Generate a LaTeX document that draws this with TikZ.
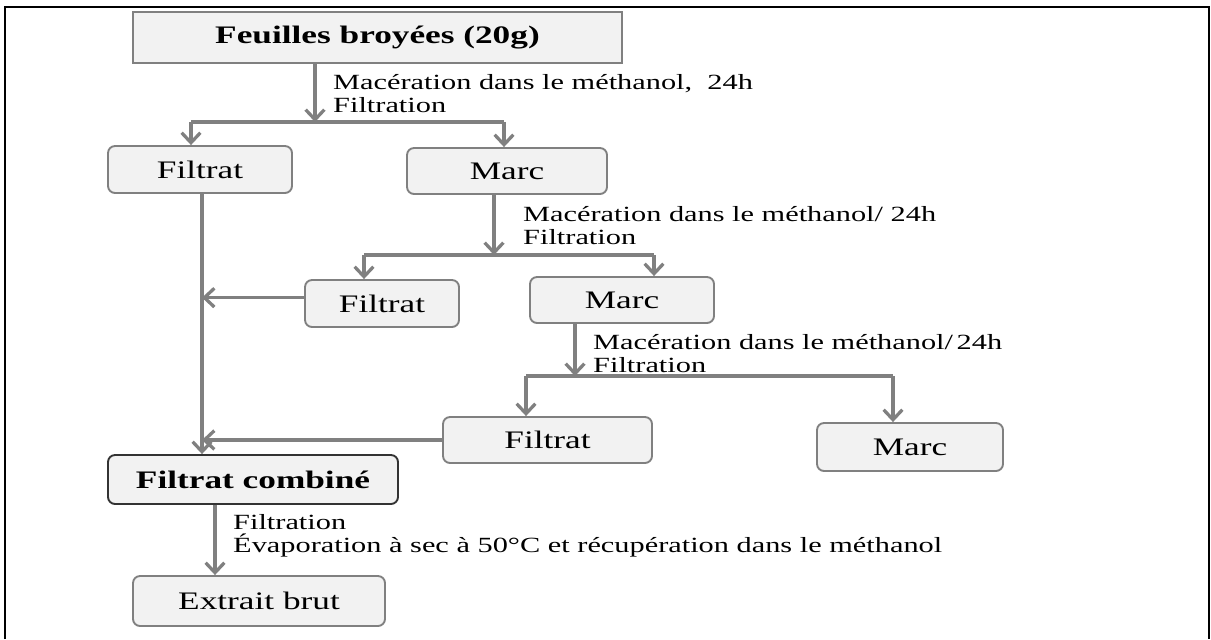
\documentclass[tikz,border=0pt]{standalone}
\usepackage{fontspec}
\setmainfont{Liberation Serif}[FakeStretch=1.4]
\usetikzlibrary{arrows.meta}

\definecolor{boxfill}{RGB}{242,242,242}
\definecolor{linegray}{RGB}{128,128,128}

\tikzset{
  stepbox/.style={draw=linegray, fill=boxfill, line width=1.6pt, rounded corners=6pt,
    inner sep=0pt, font=\fontsize{21.5}{24}\selectfont},
  flow/.style={draw=linegray, line width=2.8pt},
  note/.style={anchor=west, align=left, inner sep=0pt, font=\fontsize{18.5}{19.8}\selectfont},
  >={Straight Barb[length=8.5pt,width=16pt]},
}

\begin{document}
\begin{tikzpicture}[x=0.03cm, y=-0.03cm]
    \useasboundingbox (0,0) rectangle (1211,639);
    \draw[line width=1pt] (5,639) -- (5,7) -- (1209,7) -- (1209,639); % frame, open at the bottom

    % boxes
    \node[stepbox, sharp corners, line width=2.4pt, minimum width=14.67cm, minimum height=1.53cm,
          font=\fontsize{21.5}{24}\selectfont\bfseries] (top) at (377.5,37.5) {Feuilles broyées (20g)};
    \node[stepbox, minimum width=5.52cm, minimum height=1.41cm] (fil1) at (200,169.5) {Filtrat};
    \node[stepbox, minimum width=6cm, minimum height=1.38cm] (marc1) at (507,171) {Marc};
    \node[stepbox, minimum width=4.62cm, minimum height=1.41cm] (fil2) at (382,303.5) {Filtrat};
    \node[stepbox, minimum width=5.52cm, minimum height=1.38cm] (marc2) at (622,300) {Marc};
    \node[stepbox, minimum width=6.27cm, minimum height=1.38cm] (fil3) at (547.5,440) {Filtrat};
    \node[stepbox, minimum width=5.58cm, minimum height=1.44cm] (marc3) at (910,447) {Marc};
    \node[stepbox, draw=black!80, minimum width=8.7cm, minimum height=1.47cm,
          font=\fontsize{21.5}{24}\selectfont\bfseries] (comb) at (253,479.5) {Filtrat combiné};
    \node[stepbox, minimum width=7.56cm, minimum height=1.5cm] (brut) at (259,601) {Extrait brut};

    % branch points
    \coordinate (j1) at (315,122);
    \coordinate (j1l) at (191,122);
    \coordinate (j1r) at (504,122);
    \coordinate (j2) at (494,255);
    \coordinate (j2l) at (364,255);
    \coordinate (j2r) at (654,255);
    \coordinate (j3) at (575,376);
    \coordinate (j3l) at (526,376);
    \coordinate (j3r) at (893,376);
    \coordinate (c1) at (202,193);
    \coordinate (d4) at (215,504);

    % first maceration
    \draw[flow,->] (top.south -| j1) -- (j1);
    \draw[flow] (j1l) -- (j1r);
    \draw[flow,->] (j1l) -- (j1l |- fil1.north);
    \draw[flow,->] (j1r) -- (j1r |- marc1.north);
    \node[note] (m1) at (333,93.5) {Macération dans le méthanol,\ \ 24h\\Filtration};

    % second maceration
    \draw[flow,->] (marc1.south -| j2) -- (j2);
    \draw[flow] (j2l) -- (j2r);
    \draw[flow,->] (j2l) -- (j2l |- fil2.north);
    \draw[flow,->] (j2r) -- (j2r |- marc2.north);
    \node[note] (m2) at (523,225.5) {Macération dans le méthanol/ 24h\\Filtration};

    % third maceration
    \draw[flow,->] (marc2.south -| j3) -- (j3);
    \draw[flow] (j3l) -- (j3r);
    \draw[flow,->] (j3l) -- (j3l |- fil3.north);
    \draw[flow,->] (j3r) -- (j3r |- marc3.north);
    \node[note] (m3) at (593,353.5) {Macération dans le méthanol/\,24h\\Filtration};

    % filtrates combined
    \draw[flow,->] (fil1.south -| c1) -- (c1 |- comb.north);
    \draw[flow,->] ([yshift=5pt]fil2.west) -- ([yshift=5pt]fil2.west -| c1);
    \draw[flow,->] (fil3.west) -- (fil3.west -| c1);

    % final step
    \draw[flow,->] (comb.south -| d4) -- (d4 |- brut.north);
    \node[note] (m4) at (233,535.5) {Filtration\\Évaporation à sec à 50°C et récupération dans le méthanol};
\end{tikzpicture}
\end{document}
